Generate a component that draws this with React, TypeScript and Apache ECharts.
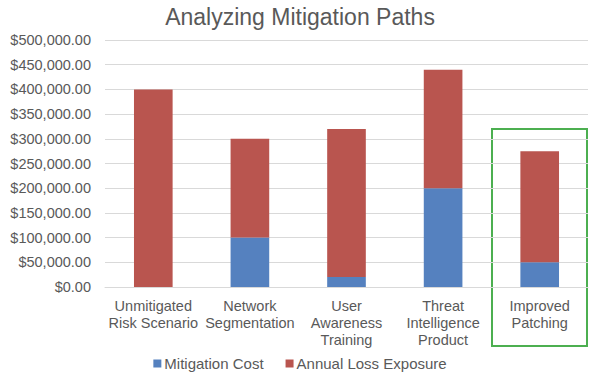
import React, { useEffect, useRef } from "react";
import * as echarts from "echarts";

const categories = [
  "Unmitigated\nRisk Scenario",
  "Network\nSegmentation",
  "User\nAwareness\nTraining",
  "Threat\nIntelligence\nProduct",
  "Improved\nPatching",
];
const mitigationCost = [0, 100000, 20000, 200000, 50000];
const annualLossExposure = [400000, 200000, 300000, 240000, 225000];

const fmt = (v: number) =>
  "$" + v.toLocaleString("en-US", { minimumFractionDigits: 2, maximumFractionDigits: 2 });

export default function App() {
  const ref = useRef<HTMLDivElement>(null);
  useEffect(() => {
    if (!ref.current) return;
    const chart = echarts.init(ref.current, null, { renderer: "svg" });
    const font = "'Liberation Sans', Arial, sans-serif";
    chart.setOption({
      animation: false,
      textStyle: { fontFamily: font },
      title: {
        text: "Analyzing Mitigation Paths",
        left: "center",
        top: 0,
        textStyle: { fontSize: 23, fontWeight: "normal", color: "#595959", fontFamily: font },
      },
      legend: {
        bottom: 5,
        left: "center",
        itemWidth: 8,
        itemHeight: 8,
        itemGap: 22,
        icon: "rect",
        textStyle: { fontSize: 15, color: "#595959", fontFamily: font, padding: [0, 0, 0, -2] },
        data: ["Mitigation Cost", "Annual Loss Exposure"],
      },
      grid: { left: 105, right: 12, top: 40, bottom: 94 },
      xAxis: {
        type: "category",
        data: categories,
        axisTick: { show: false },
        axisLine: { lineStyle: { color: "#D9D9D9" } },
        axisLabel: { color: "#595959", fontSize: 14.5, lineHeight: 17, interval: 0, margin: 10, fontFamily: font },
      },
      yAxis: {
        type: "value",
        min: 0,
        max: 500000,
        interval: 50000,
        axisLine: { show: false },
        axisTick: { show: false },
        splitLine: { lineStyle: { color: "#D9D9D9" } },
        axisLabel: { color: "#595959", fontSize: 14.5, margin: 14, formatter: fmt, fontFamily: font },
      },
      series: [
        {
          name: "Mitigation Cost",
          type: "bar",
          stack: "total",
          data: mitigationCost,
          barWidth: "40%",
          itemStyle: { color: "#5581BF" },
        },
        {
          name: "Annual Loss Exposure",
          type: "bar",
          stack: "total",
          data: annualLossExposure,
          barWidth: "40%",
          itemStyle: { color: "#B9554F" },
        },
      ],
      graphic: [
        {
          type: "rect",
          shape: { x: 492, y: 129, width: 95, height: 217 },
          style: { fill: "none", stroke: "#4CAF50", lineWidth: 2 },
        },
      ],
    });
    return () => chart.dispose();
  }, []);
  return <div ref={ref} style={{ width: 600, height: 381, position: "absolute", left: 0, top: 0 }} />;
}
